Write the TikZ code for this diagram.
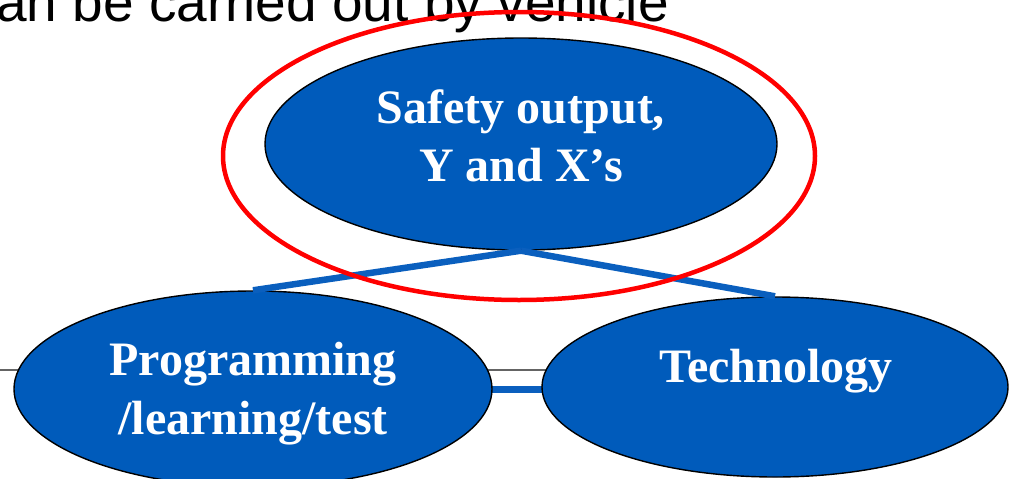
\documentclass[tikz,border=0pt]{standalone}
\usepackage{fontspec}
\setmainfont{Liberation Serif}
\newfontfamily\arialf{Liberation Sans}
\usetikzlibrary{shapes.geometric}
\definecolor{nodeblue}{RGB}{0,91,187}
\definecolor{lnblue}{RGB}{10,95,190}
\definecolor{ringred}{RGB}{255,0,0}
\definecolor{rulegray}{RGB}{100,100,100}
\tikzset{
  blob/.style={ellipse, draw=black, line width=1.4pt, fill=nodeblue, inner sep=0pt},
  lbl/.style={text=white, font=\fontsize{48}{57}\selectfont\bfseries, inner sep=0pt, anchor=base},
  link/.style={draw=lnblue, line width=6.5pt},
}
\begin{document}
\begin{tikzpicture}[x=1pt,y=-1pt]
\useasboundingbox (0,0) rectangle (1009,479);
% gray rule behind
\coordinate (g1) at (0,370);
\coordinate (g2) at (700,370);
\draw[rulegray, line width=2.5pt] (g1) -- (g2);
% horizontal link between lower ellipses (behind them)
\coordinate (h1) at (480,389);
\coordinate (h2) at (560,389);
\draw[link, line width=7pt] (h1) -- (h2);
% lower ellipses
\node[blob, minimum width=478pt, minimum height=196pt] (left) at (253,389) {};
\node[blob, minimum width=466pt, minimum height=180pt] (right) at (775,387) {};
% top ellipse
\node[blob, minimum width=512pt, minimum height=212pt] (top) at (521,144) {};
\draw[link] (top.south) -- (left.north);
\draw[link] (top.south) -- (right.north);
% labels
\node[lbl] (t1) at (521,123) {Safety output,};
\node[lbl] (t2) at (521,181) {Y and X’s};
\node[lbl] (l1) at (253,375) {Programming};
\node[lbl] (l2) at (253,434) {/learning/test};
\node[lbl] (r1) at (776,382) {Technology};
% heading text
\node[anchor=base east, inner sep=0pt, font=\arialf\fontsize{55}{60}\selectfont] (head) at (669,21) {an be carried out by vehicle};
% red ring
\node[ellipse, draw=ringred, line width=4.5pt, minimum width=592pt, minimum height=288pt, inner sep=0pt] (ring) at (519,156) {};
\end{tikzpicture}
\end{document}
